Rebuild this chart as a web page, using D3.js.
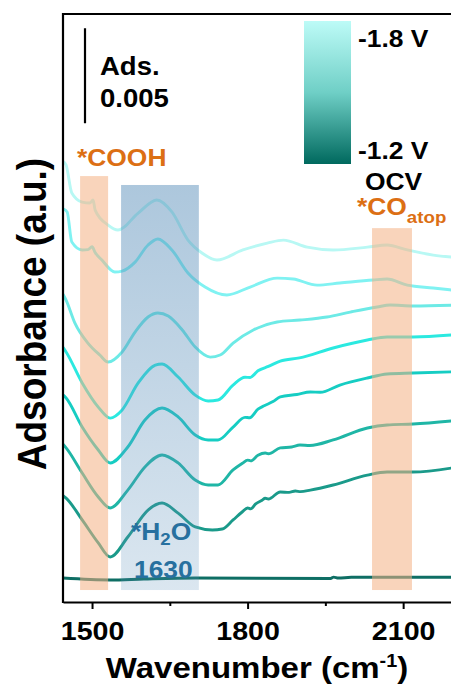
<!DOCTYPE html>
<html>
<head>
<meta charset="utf-8">
<script src="https://cdn.jsdelivr.net/npm/d3@7"></script>
<style>
  body { margin: 0; background: #fff; }
  svg { display: block; font-family: Arial, 'Liberation Sans', sans-serif; font-weight: bold; }
</style>
</head>
<body>
<svg id="chart"></svg>
<script>
// Spectra: [wavenumber (cm-1), absorbance x 1e-3], already offset for stacking.
const specOCV = [[1444, 1.26], [1535, 1.16], [1600, 1.21], [1700, 1.26], [1960, 1.24],
  [1966, 1.31], [1975, 1.26], [2000, 1.3], [2200, 1.3]];
const specM12 = [[1444, 5.6], [1450, 5.47], [1481, 4.32], [1512, 3.11], [1535, 2.37],
  [1569, 3.42], [1608, 4.84], [1635, 5.21], [1666, 4.68], [1699, 3.95], [1732, 3.79],
  [1751, 3.84], [1772, 4.32], [1790, 4.75], [1800, 4.95], [1806, 4.9], [1815, 5.15],
  [1828, 5.36], [1834, 5.46], [1840, 5.42], [1863, 5.79], [1880, 5.77], [1892, 5.84],
  [1902, 5.81], [1921, 5.89], [1965, 6.16], [2031, 6.68], [2069, 6.84], [2119, 6.84], [2200, 7.08]];
const specM13 = [[1444, 8.3], [1450, 8.11], [1481, 6.79], [1512, 5.53], [1535, 4.95],
  [1569, 5.89], [1602, 7.11], [1635, 7.74], [1666, 7.32], [1699, 6.42], [1724, 6.16],
  [1743, 6.16], [1772, 6.95], [1790, 7.3], [1800, 7.47], [1806, 7.43], [1820, 7.72],
  [1834, 7.84], [1840, 7.8], [1863, 8.11], [1885, 8.16], [1901, 8.26], [1920, 8.24],
  [1965, 8.53], [2031, 9.16], [2069, 9.32], [2119, 9.37], [2200, 9.55]];
const specM14 = [[1444, 10.9], [1450, 10.74], [1481, 9.21], [1512, 8.0], [1535, 7.32],
  [1569, 8.16], [1602, 9.58], [1635, 10.21], [1666, 9.74], [1699, 8.79], [1724, 8.53],
  [1743, 8.53], [1772, 9.21], [1795, 9.72], [1804, 9.7], [1820, 10.15], [1832, 10.33],
  [1849, 10.55], [1863, 10.8], [1895, 10.92], [1921, 11.05], [1940, 11.04],
  [1978, 11.42], [2031, 11.79], [2069, 12.0], [2119, 12.05], [2200, 12.12]];
const specM15 = [[1444, 13.4], [1450, 13.16], [1481, 11.53], [1512, 10.26], [1535, 9.68],
  [1558, 10.11], [1589, 11.53], [1622, 12.47], [1635, 12.53], [1666, 11.84], [1699, 10.89],
  [1724, 10.58], [1743, 10.63], [1772, 11.42], [1795, 11.83], [1805, 11.82], [1820, 12.17],
  [1840, 12.4], [1863, 12.68], [1900, 12.85], [1965, 13.37], [2031, 13.79], [2069, 13.95],
  [2119, 13.95], [2200, 14.07]];
const specM16 = [[1444, 16.2], [1450, 15.89], [1467, 14.68], [1492, 13.63], [1515, 13.0],
  [1531, 12.63], [1558, 13.16], [1583, 14.21], [1608, 15.0], [1627, 15.21], [1647, 15.05],
  [1674, 14.32], [1699, 13.42], [1728, 12.89], [1747, 13.0], [1772, 13.63], [1811, 14.32],
  [1857, 14.74], [1901, 14.84], [1953, 15.0], [1998, 15.26], [2050, 15.53], [2075, 15.63],
  [2119, 15.58], [2200, 15.63]];
const specM17 = [[1444, 20.7], [1452, 20.53], [1461, 18.95], [1481, 18.53], [1492, 18.55],
  [1500, 18.7], [1506, 18.4], [1519, 18.0], [1544, 17.37], [1558, 17.42], [1583, 17.89],
  [1608, 18.79], [1627, 19.11], [1654, 18.53], [1685, 17.32], [1718, 16.58], [1760, 16.16],
  [1805, 16.58], [1857, 17.05], [1888, 17.0], [1934, 16.68], [1978, 16.79], [2042, 16.95],
  [2069, 17.0], [2108, 16.68], [2158, 16.53], [2200, 16.4]];
const specM18 = [[1444, 23.2], [1450, 23.0], [1461, 21.53], [1481, 21.05], [1496, 21.0],
  [1502, 21.16], [1506, 20.63], [1531, 19.84], [1550, 19.58], [1589, 20.47], [1625, 21.16],
  [1654, 20.53], [1685, 19.05], [1712, 18.37], [1741, 18.0], [1791, 18.53], [1838, 18.89],
  [1869, 19.05], [1915, 18.68], [1965, 18.53], [2031, 18.68], [2069, 18.79], [2108, 18.53],
  [2158, 18.26], [2200, 18.14]];

const spectra = [specOCV, specM12, specM13, specM14, specM15, specM16, specM17, specM18];
const potentials = ['OCV', '-1.2 V', '-1.3 V', '-1.4 V', '-1.5 V', '-1.6 V', '-1.7 V', '-1.8 V'];
const lineColors = ['#0e6e64', '#1a9a8a', '#1fb6a6', '#16cdc3', '#2be9e0', '#6deae6', '#80f2f2', '#b8f8f4'];

// Highlighted regions [from, to] in cm-1
const coohBand = [1477, 1531];
const waterBand = [1556, 1706];
const coBand = [2040, 2117];

const xTicks = [1500, 1800, 2100];
const xMinorTicks = [1650, 1950];
const scaleBarValue = 5; // 0.005 absorbance

const width = 451;
const height = 691;
const margin = {top: 14, right: -4, bottom: 89, left: 63};
const textStretch = 1.1;

const orange = '#f4b183';
const orangeText = '#dc6f14';
const blueText = '#27709f';

const svg = d3.select('#chart').attr('width', width).attr('height', height);

const x = d3.scaleLinear()
  .domain([1444, 2200])
  .range([margin.left, width - margin.right]);
const y = d3.scaleLinear()
  .domain([0, 30.95])
  .range([height - margin.bottom, margin.top]);

const defs = svg.append('defs');
defs.append('clipPath').attr('id', 'plot-clip')
  .append('rect')
  .attr('x', margin.left).attr('y', margin.top)
  .attr('width', width - margin.right - margin.left)
  .attr('height', height - margin.bottom - margin.top);

const waterGrad = defs.append('linearGradient')
  .attr('id', 'water-grad').attr('x1', 0).attr('y1', 0).attr('x2', 0).attr('y2', 1);
waterGrad.append('stop').attr('offset', '0%').attr('stop-color', '#5a8fba').attr('stop-opacity', 0.5);
waterGrad.append('stop').attr('offset', '100%').attr('stop-color', '#5a8fba').attr('stop-opacity', 0.22);

const barGrad = defs.append('linearGradient')
  .attr('id', 'bar-grad').attr('x1', 0).attr('y1', 0).attr('x2', 0).attr('y2', 1);
barGrad.append('stop').attr('offset', '0%').attr('stop-color', '#bdfbf7');
barGrad.append('stop').attr('offset', '50%').attr('stop-color', '#6fcfc6');
barGrad.append('stop').attr('offset', '100%').attr('stop-color', '#00695e');

// Spectra
const line = d3.line()
  .x((d) => x(d[0]))
  .y((d) => y(d[1]))
  .curve(d3.curveMonotoneX);

svg.append('g')
  .attr('clip-path', 'url(#plot-clip)')
  .selectAll('path')
  .data(spectra)
  .join('path')
  .attr('fill', 'none')
  .attr('stroke', (d, i) => lineColors[i])
  .attr('stroke-width', 2.9)
  .attr('stroke-linejoin', 'round')
  .attr('d', line);

// Highlight bands are drawn over the lines, semi transparent
const bandBottom = 0.63;
const bands = svg.append('g');
bands.append('rect')
  .attr('x', x(coohBand[0])).attr('width', x(coohBand[1]) - x(coohBand[0]))
  .attr('y', y(22.42)).attr('height', y(bandBottom) - y(22.42))
  .attr('fill', orange).attr('fill-opacity', 0.55);
bands.append('rect')
  .attr('x', x(coBand[0])).attr('width', x(coBand[1]) - x(coBand[0]))
  .attr('y', y(19.68)).attr('height', y(bandBottom) - y(19.68))
  .attr('fill', orange).attr('fill-opacity', 0.55);
bands.append('rect')
  .attr('x', x(waterBand[0])).attr('width', x(waterBand[1]) - x(waterBand[0]))
  .attr('y', y(21.95)).attr('height', y(bandBottom) - y(21.95))
  .attr('fill', 'url(#water-grad)');

// Axes
const xAxis = d3.axisBottom(x).tickValues(xTicks).tickSize(7).tickSizeOuter(0).tickFormat(d3.format('d'));
const gx = svg.append('g')
  .attr('transform', `translate(0, ${height - margin.bottom})`)
  .call(xAxis);
gx.select('.domain').attr('stroke-width', 2.2);
gx.selectAll('.tick line').attr('stroke-width', 2);
// stretch each label around its own tick
gx.selectAll('.tick text')
  .attr('font-size', 26)
  .attr('font-family', null)
  .attr('y', 38)
  .attr('dy', null)
  .attr('transform', `scale(${textStretch},1)`)
  .attr('fill', '#000');

svg.append('g')
  .attr('transform', `translate(0, ${height - margin.bottom})`)
  .call(d3.axisBottom(x).tickValues(xMinorTicks).tickSize(4).tickSizeOuter(0).tickFormat(''))
  .call((g) => g.select('.domain').remove())
  .selectAll('.tick line').attr('stroke-width', 2);

// Frame: left axis and top border
svg.append('line')
  .attr('x1', margin.left).attr('x2', margin.left)
  .attr('y1', margin.top - 1).attr('y2', height - margin.bottom + 1)
  .attr('stroke', '#000').attr('stroke-width', 2.2);
svg.append('line')
  .attr('x1', margin.left).attr('x2', width)
  .attr('y1', margin.top).attr('y2', margin.top)
  .attr('stroke', '#000').attr('stroke-width', 2.2);

// Helper for text stretched horizontally like the source figure
function label(px, py, size, color, anchor) {
  return svg.append('text')
    .attr('transform', `translate(${px},${py}) scale(${textStretch},1)`)
    .attr('font-size', size)
    .attr('fill', color)
    .attr('text-anchor', anchor || 'start');
}

// Axis titles
const xt = label((margin.left + 455) / 2 - 2, 678, 30, '#000', 'middle');
xt.append('tspan').text('Wavenumber (cm');
xt.append('tspan').attr('font-size', 18).attr('dy', -11).text('-1');
xt.append('tspan').attr('dy', 11).text(')');

svg.append('text')
  .attr('transform', 'translate(46,314) scale(1.12,1) rotate(-90)')
  .attr('font-size', 37)
  .attr('text-anchor', 'middle')
  .text('Adsorbance (a.u.)');

// Scale bar
const barX = 85;
svg.append('line')
  .attr('x1', barX).attr('x2', barX)
  .attr('y1', y(25.2)).attr('y2', y(25.2 + scaleBarValue))
  .attr('stroke', '#000').attr('stroke-width', 2.2);
label(100, 75, 25, '#000').text('Ads.');
label(100, 107, 25, '#000').text(d3.format('.3f')(scaleBarValue / 1000));

// Potential colour bar
svg.append('rect')
  .attr('x', 304).attr('y', 21).attr('width', 47).attr('height', 143)
  .attr('fill', 'url(#bar-grad)');
label(358, 47, 24, '#000').text(potentials[7]);
label(358, 159, 24, '#000').text(potentials[1]);
label(365, 190, 24, '#000').text(potentials[0]);

// Band labels
label(77, 166, 24, orangeText).text('*COOH');
const co = label(357, 215, 24, orangeText);
co.append('tspan').text('*CO');
co.append('tspan').attr('font-size', 17).attr('dy', 8).text('atop');

const h2o = label(131, 540, 24, blueText);
h2o.append('tspan').text('*H');
h2o.append('tspan').attr('font-size', 17).attr('dy', 5).text('2');
h2o.append('tspan').attr('dy', -5).text('O');
label(134, 578, 24, blueText).text('1630');
</script>
</body>
</html>
